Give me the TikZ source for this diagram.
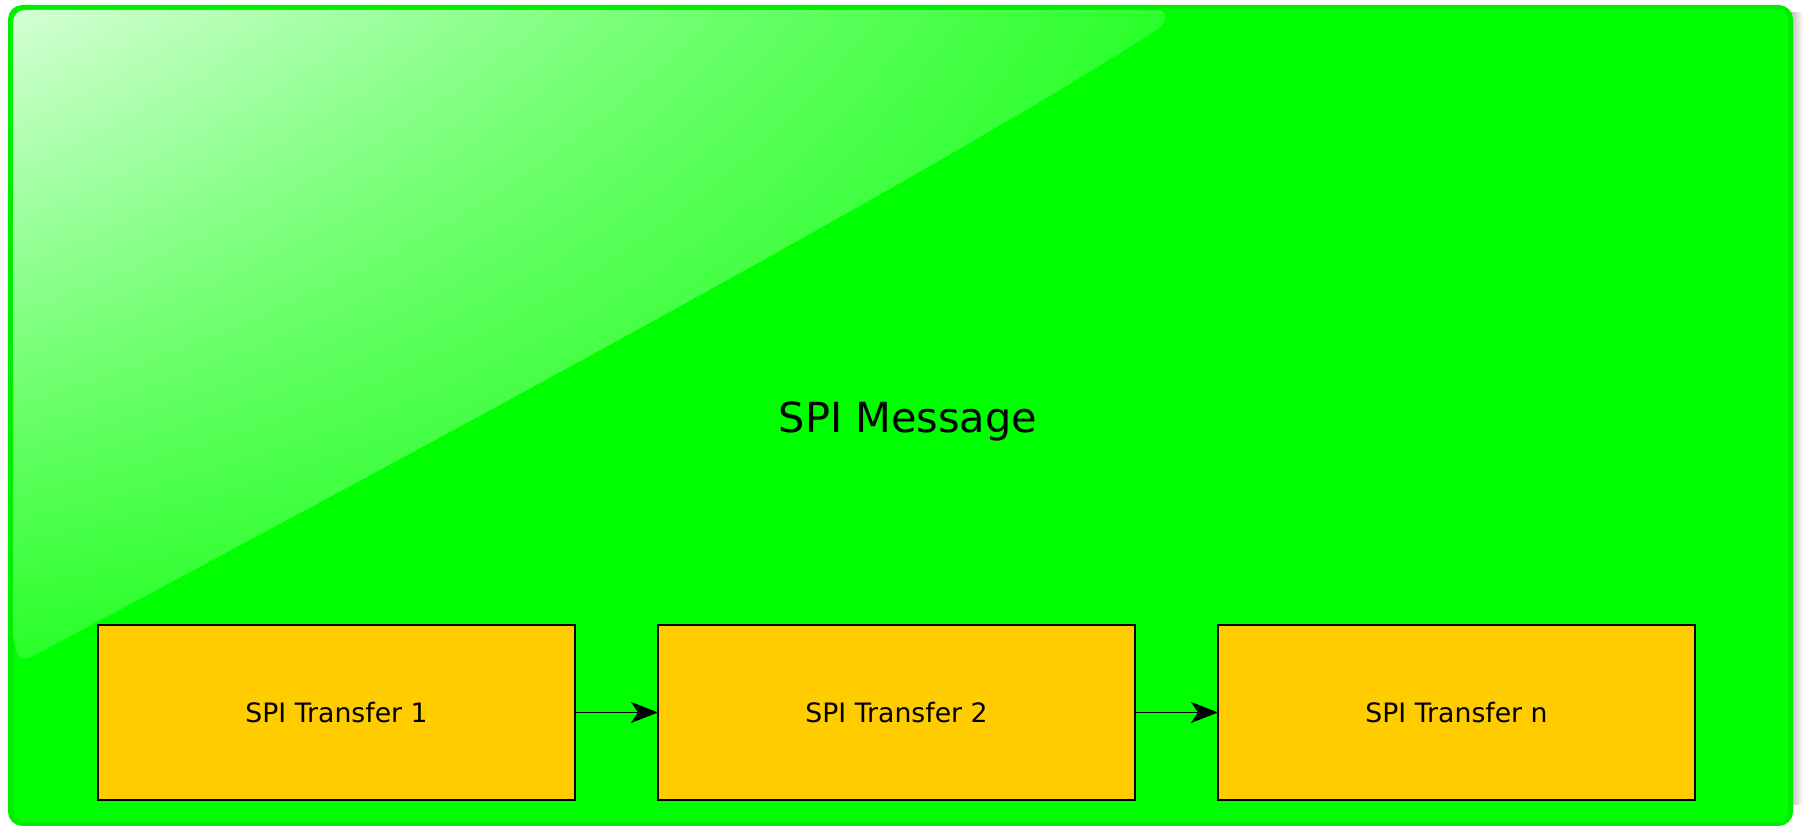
\documentclass[tikz,border=0pt]{standalone}
\usepackage{fontspec}
\setmainfont{DejaVu Sans}
\usepackage{tikz}
\usetikzlibrary{arrows.meta, positioning, calc, shadings}

\definecolor{msggreen}{RGB}{0,255,0}
\definecolor{msgedge}{RGB}{0,238,0}
\definecolor{xferyellow}{RGB}{255,204,0}
\definecolor{glaretl}{RGB}{212,255,212}
\definecolor{glaretr}{RGB}{42,255,42}
\definecolor{glarebl}{RGB}{40,255,40}

\begin{document}
\begin{tikzpicture}[
    msgbox/.style={fill=msggreen, draw=msgedge, line width=0.05cm, rounded corners=0.12cm}, % 外框(绿色圆角)
    glare/.style={upper left=glaretl, upper right=glaretr, lower left=glarebl, lower right=msggreen, rounded corners=0.12cm}, % 高光
    xfer/.style={fill=xferyellow, draw=black, line width=0.6pt, outer sep=0pt, minimum width=4.77cm, minimum height=1.75cm,
                 font=\fontsize{7.6}{9}\selectfont}, % 传输块(黄色)
    link/.style={black, line width=0.55pt, -{Stealth[length=0.27cm, width=0.21cm, inset=0.07cm]}} % 连接箭头
]
    \useasboundingbox (0,0) rectangle (18.03,8.29);

    % 1. 阴影 + 外框
    \shade[left color=gray!55, right color=white] (17.9,8.16) rectangle (18.03,0.24);
    \draw[msgbox] (0.105,0.055) rectangle (17.905,8.215);

    % 2. 左上角高光
    \shade[glare] (0.13,1.9) -- (0.13,8.19) -- (11.45,8.19)
        .. controls (11.7,8.19) and (11.65,8.05) .. (11.5,7.95)
        .. controls (9.0,6.35) and (2.5,2.89) .. (0.2,1.66) -- cycle;

    % 3. 标题
    \node[anchor=base, font=\fontsize{11.8}{14}\selectfont] (msg) at (9.08,3.96) {SPI Message};

    % 4. 传输块
    \node[xfer] (xfer1) at (3.365,1.165) {SPI Transfer 1};
    \node[xfer, right=0.83cm of xfer1] (xfer2) {SPI Transfer 2};
    \node[xfer, right=0.83cm of xfer2] (xfern) {SPI Transfer n};

    % 5. 箭头
    \draw[link] (xfer1) -- (xfer2);
    \draw[link] (xfer2) -- (xfern);

\end{tikzpicture}
\end{document}
